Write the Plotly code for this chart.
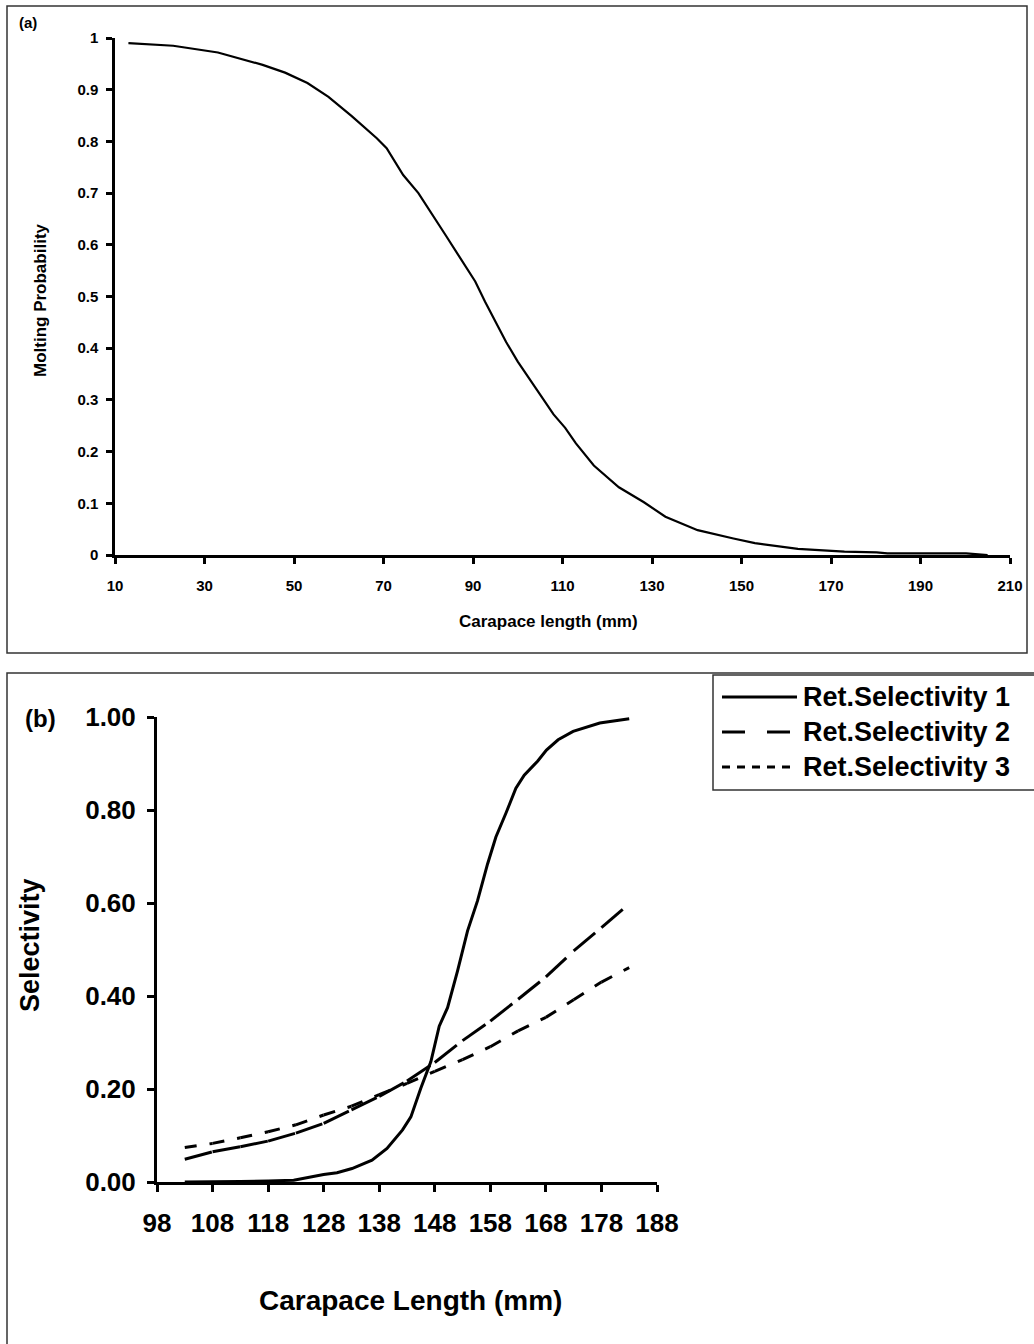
import plotly.graph_objects as go

# Panel (a): molting probability against carapace length
molt_len = [13, 23, 33, 43, 48, 53, 57.7, 60.3, 62.9, 68.5, 70.7, 74.4, 77.8, 84,
            90.5, 92.7, 97.4, 100, 102.5, 108, 110.6, 113, 117, 122.6, 128.2, 133,
            140.2, 145.8, 148.2, 153, 162.6, 173, 180.2, 182.6, 200.2, 205]
molt_prob = [0.990, 0.985, 0.972, 0.948, 0.933, 0.913, 0.886, 0.867, 0.849, 0.806,
             0.787, 0.735, 0.700, 0.617, 0.529, 0.490, 0.412, 0.374, 0.342, 0.272,
             0.246, 0.216, 0.173, 0.131, 0.102, 0.074, 0.048, 0.036, 0.032, 0.023,
             0.012, 0.0065, 0.005, 0.003, 0.003, 0.0]
molt_xticks = list(range(10, 211, 20))
molt_yticks = [0, 0.1, 0.2, 0.3, 0.4, 0.5, 0.6, 0.7, 0.8, 0.9, 1]
molt_yticktext = ["0", "0.1", "0.2", "0.3", "0.4", "0.5", "0.6", "0.7", "0.8", "0.9", "1"]

# Panel (b): retention selectivity curves
sel1_len = [103, 108, 113, 118, 122.6, 128.0, 130.4, 133.1, 136.7, 139.4, 142.2, 143.7,
            145.5, 147.3, 148.8, 150.3, 152.1, 153.9, 155.7, 157.5, 159.0, 160.8, 162.6,
            164.1, 166.5, 168.1, 170.2, 172.9, 177.7, 183]
sel1_val = [0.0, 0.0, 0.001, 0.002, 0.004, 0.016, 0.020, 0.029, 0.047, 0.072, 0.112, 0.140,
            0.202, 0.259, 0.335, 0.375, 0.454, 0.540, 0.605, 0.684, 0.742, 0.793, 0.847,
            0.875, 0.905, 0.929, 0.951, 0.969, 0.987, 0.996]
sel2_len = [103, 108, 113, 118, 123, 128, 133, 138, 143, 148, 153, 158, 163, 168, 173, 178, 182]
sel2_val = [0.049, 0.065, 0.076, 0.088, 0.105, 0.126, 0.155, 0.184, 0.217, 0.257, 0.304,
            0.346, 0.393, 0.441, 0.497, 0.547, 0.588]
sel3_len = [103, 108, 113, 118, 123, 128, 133, 138, 143, 148, 153, 158, 163, 168, 173, 178, 183]
sel3_val = [0.074, 0.083, 0.095, 0.108, 0.123, 0.144, 0.163, 0.188, 0.212, 0.238, 0.263,
            0.291, 0.325, 0.354, 0.392, 0.430, 0.461]
sel_names = ["Ret.Selectivity 1", "Ret.Selectivity 2", "Ret.Selectivity 3"]
sel_xticks = list(range(98, 189, 10))
sel_yticks = [0, 0.2, 0.4, 0.6, 0.8, 1.0]
sel_yticktext = ["0.00", "0.20", "0.40", "0.60", "0.80", "1.00"]

W, H = 1034, 1344
FONT = "Liberation Sans, Arial, sans-serif"


def px(x):
    return x / W


def py(y):
    return 1 - y / H


fig = go.Figure()

fig.add_trace(go.Scatter(x=molt_len, y=molt_prob, mode="lines",
                         line=dict(color="black", width=2.2),
                         xaxis="x", yaxis="y", showlegend=False))

fig.add_trace(go.Scatter(x=sel1_len, y=sel1_val, mode="lines", name=sel_names[0],
                         line=dict(color="black", width=3),
                         xaxis="x2", yaxis="y2", showlegend=False))

# dashed series are stroked segment by segment so the pattern restarts at every point
for xs, ys, dash in [(sel2_len, sel2_val, "28px,20px"), (sel3_len, sel3_val, "12px,13px")]:
    for i in range(len(xs) - 1):
        fig.add_trace(go.Scatter(x=xs[i:i + 2], y=ys[i:i + 2], mode="lines",
                                 line=dict(color="black", width=3, dash=dash),
                                 xaxis="x2", yaxis="y2", showlegend=False,
                                 hoverinfo="skip"))

axis_common = dict(showline=True, linecolor="black", ticks="outside", tickcolor="black",
                   showgrid=False, zeroline=False, automargin=False)

fig.update_layout(
    width=W, height=H,
    margin=dict(l=0, r=0, t=0, b=0, pad=0, autoexpand=False),
    paper_bgcolor="white", plot_bgcolor="white",
    font=dict(family=FONT, color="black"),
    xaxis=dict(axis_common, domain=[px(115), px(1010)], anchor="y", range=[10, 210],
               tickvals=molt_xticks, linewidth=2.5, tickwidth=2.5, ticklen=6,
               tickfont=dict(size=15, weight="bold"), ticklabelstandoff=9),
    yaxis=dict(axis_common, domain=[py(555), py(38)], anchor="x", range=[0, 1],
               tickvals=molt_yticks, ticktext=molt_yticktext, linewidth=2.5,
               tickwidth=2.5, ticklen=6, tickfont=dict(size=15, weight="bold"),
               ticklabelstandoff=5),
    xaxis2=dict(axis_common, domain=[px(157), px(657)], anchor="y2", range=[98, 188],
                tickvals=sel_xticks, linewidth=3, tickwidth=3, ticklen=7,
                tickfont=dict(size=26, weight="bold"), ticklabelstandoff=9),
    yaxis2=dict(axis_common, domain=[py(1182), py(717)], anchor="x2", range=[0, 1],
                tickvals=sel_yticks, ticktext=sel_yticktext, linewidth=3, tickwidth=3,
                ticklen=7, tickfont=dict(size=26, weight="bold"), ticklabelstandoff=6),
)

shapes = [
    dict(type="rect", xref="paper", yref="paper", x0=px(7), x1=px(1027), y0=py(653),
         y1=py(6), line=dict(color="#333333", width=1.5)),
    dict(type="rect", xref="paper", yref="paper", x0=px(7), x1=1.02, y0=-0.02,
         y1=py(673), line=dict(color="#333333", width=1.5)),
    dict(type="rect", xref="paper", yref="paper", x0=px(713), x1=1.02, y0=py(790),
         y1=py(675), line=dict(color="#333333", width=1.5), fillcolor="white"),
]
legend_rows = [697, 732, 767]
legend_dash = ["solid", "23px,22px", "8px,7px"]
for row, dash in zip(legend_rows, legend_dash):
    shapes.append(dict(type="line", xref="paper", yref="paper", x0=px(722), x1=px(797),
                       y0=py(row), y1=py(row), line=dict(color="black", width=3, dash=dash)))
fig.update_layout(shapes=shapes)

annotations = [
    dict(text="<b>(a)</b>", x=px(28), y=py(22), font=dict(size=15)),
    dict(text="<b>Carapace length (mm)</b>", x=px(548), y=py(621), font=dict(size=17)),
    dict(text="<b>Molting Probability</b>", x=px(40), y=py(300), textangle=-90,
         font=dict(size=17)),
    dict(text="<b>(b)</b>", x=px(40), y=py(718), font=dict(size=24)),
    dict(text="<b>Selectivity</b>", x=px(30), y=py(945), textangle=-90, font=dict(size=27)),
    dict(text="<b>Carapace Length (mm)</b>", x=px(410), y=py(1300), font=dict(size=28)),
]
for row, name in zip(legend_rows, sel_names):
    annotations.append(dict(text="<b>" + name + "</b>", x=px(801), y=py(row),
                            xanchor="left", font=dict(size=27)))
for a in annotations:
    a.setdefault("xanchor", "center")
    a.update(xref="paper", yref="paper", yanchor="middle", showarrow=False)
fig.update_layout(annotations=annotations)

fig.write_html("out.html")
